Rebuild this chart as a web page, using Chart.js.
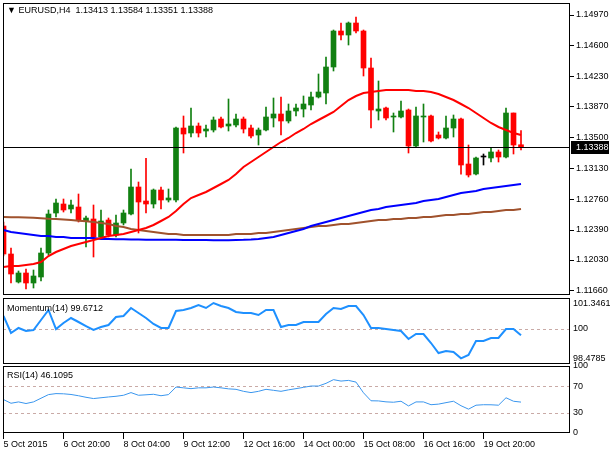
<!DOCTYPE html>
<html>
<head>
<meta charset="utf-8">
<script src="https://cdn.jsdelivr.net/npm/chart.js@4.4.0/dist/chart.umd.min.js"></script>
<style>
body { margin: 0; background: #fff; width: 610px; height: 450px; overflow: hidden; position: relative;
       font-family: "Liberation Sans", Arial, sans-serif; }
canvas { position: absolute; left: 0; }
.lbl { position: absolute; left: 7px; font-size: 9px; line-height: 10px; color: #000; white-space: pre; }
</style>
</head>
<body>
<canvas id="main" width="610" height="300" style="top:0"></canvas>
<canvas id="mom" width="610" height="74" style="top:292px"></canvas>
<canvas id="rsi" width="610" height="94" style="top:356px"></canvas>
<div class="lbl" id="title" style="top:5px"></div>
<div class="lbl" id="momTitle" style="top:303px"></div>
<div class="lbl" id="rsiTitle" style="top:370px"></div>
<script>
// EURUSD H4, one value per bar
const opens = [1.12438,1.12102,1.11766,1.11874,1.11754,1.11826,1.12114,1.12594,1.12702,1.12642,
  1.12666,1.12498,1.12522,1.12306,1.1251,1.1233,1.12474,1.12582,1.12906,1.12738,
  1.12702,1.1287,1.1275,1.1275,1.13614,1.13554,1.13638,1.13578,1.1359,1.13722,
  1.13638,1.1365,1.13722,1.13614,1.1353,1.1359,1.13734,1.13782,1.13698,1.13818,
  1.13842,1.1389,1.13986,1.14034,1.14346,1.14778,1.1473,1.14874,1.14778,1.14334,
  1.13818,1.13854,1.13746,1.13746,1.1383,1.13398,1.13746,1.13758,1.1353,1.13494,
  1.13614,1.13722,1.13182,1.13062,1.13266,1.13254,1.13326,1.13266,1.13794,1.13413];
const highs = [1.12486,1.12174,1.11898,1.11922,1.1191,1.12174,1.1263,1.12762,1.12762,1.1275,
  1.12822,1.12558,1.1269,1.1263,1.12534,1.1257,1.1263,1.13122,1.12966,1.1325,
  1.12882,1.12906,1.12882,1.13626,1.13758,1.13854,1.13674,1.1365,1.13746,1.13746,
  1.13962,1.13782,1.13746,1.1365,1.13614,1.13866,1.13974,1.13986,1.13902,1.13902,
  1.13998,1.14046,1.14262,1.14466,1.1479,1.14874,1.14886,1.14946,1.1479,1.14454,
  1.14178,1.13866,1.13794,1.13938,1.13842,1.13866,1.13902,1.1377,1.13566,1.13758,
  1.1377,1.13734,1.1341,1.13266,1.13302,1.13374,1.1335,1.13854,1.13794,1.13584];
const lows = [1.12078,1.11754,1.11754,1.11682,1.11694,1.11778,1.1209,1.12546,1.12606,1.12594,
  1.12486,1.12186,1.12066,1.12294,1.12306,1.12306,1.1245,1.1257,1.12354,1.12594,
  1.12654,1.12642,1.12726,1.12726,1.13314,1.13506,1.13506,1.13506,1.13566,1.13614,
  1.13578,1.13626,1.13554,1.13494,1.1341,1.13578,1.13626,1.1353,1.13674,1.13758,
  1.13746,1.1383,1.13974,1.13902,1.14298,1.1467,1.1461,1.14754,1.14238,1.13614,
  1.1371,1.1371,1.13566,1.13734,1.13314,1.13386,1.13446,1.13446,1.13482,1.13482,
  1.13506,1.1306,1.13026,1.1305,1.1317,1.13206,1.13206,1.13254,1.13302,1.13351];
const closes = [1.12102,1.11862,1.11874,1.11754,1.11838,1.12114,1.12582,1.12714,1.1263,1.1269,
  1.1251,1.12534,1.12306,1.12498,1.1233,1.12474,1.12594,1.12906,1.12726,1.12702,
  1.1287,1.1275,1.12774,1.13614,1.13542,1.13638,1.13554,1.13602,1.1371,1.13626,
  1.13662,1.13722,1.13602,1.13518,1.1359,1.13746,1.13782,1.13698,1.13818,1.13854,
  1.13902,1.13986,1.14046,1.14346,1.14778,1.1473,1.14874,1.14778,1.14334,1.1383,
  1.13842,1.13734,1.13758,1.13818,1.13398,1.13758,1.13758,1.13458,1.13494,1.13614,
  1.13722,1.1317,1.1305,1.13254,1.13266,1.13326,1.13266,1.13794,1.1341,1.13388];

// moving averages
const maFast = [1.11946,1.11958,1.11958,1.1197,1.11982,1.12006,1.12078,1.12126,1.12162,1.12198,
  1.12222,1.12246,1.1227,1.12294,1.12318,1.1233,1.12342,1.12366,1.1239,1.12414,
  1.1245,1.12498,1.12546,1.12618,1.12702,1.12774,1.1281,1.12846,1.12894,1.12942,
  1.1299,1.13062,1.13146,1.13206,1.13266,1.13326,1.13386,1.13446,1.13494,1.13554,
  1.13602,1.13662,1.1371,1.13758,1.13806,1.13878,1.1395,1.13998,1.14034,1.14046,
  1.14058,1.1407,1.1407,1.1407,1.1407,1.14058,1.14058,1.14046,1.14022,1.13986,
  1.1395,1.13902,1.13854,1.13794,1.13734,1.13674,1.13626,1.1359,1.13554,1.1353];
const maMid = [1.1239,1.12366,1.12354,1.12342,1.1233,1.12318,1.12318,1.12306,1.12306,1.12294,
  1.12294,1.12294,1.12294,1.12282,1.12282,1.1228,1.12278,1.12276,1.12276,1.12274,
  1.12274,1.12272,1.12272,1.12272,1.1227,1.1227,1.1227,1.1227,1.12268,1.12268,
  1.12268,1.1227,1.12272,1.12276,1.12282,1.12294,1.12306,1.1233,1.12354,1.12378,
  1.12402,1.12438,1.12462,1.12486,1.1251,1.12534,1.12558,1.12582,1.12606,1.1263,
  1.12642,1.12666,1.12678,1.1269,1.12702,1.12714,1.12738,1.1275,1.12762,1.12786,
  1.1281,1.12834,1.12846,1.12858,1.12882,1.12894,1.12906,1.12918,1.1293,1.12942];
const maSlow = [1.12546,1.12544,1.12542,1.1254,1.12536,1.12532,1.12526,1.12522,1.12516,1.1251,
  1.12502,1.12496,1.12486,1.12474,1.12462,1.12438,1.12426,1.12402,1.1239,1.12378,
  1.12366,1.12354,1.12342,1.12342,1.1233,1.1233,1.1233,1.1233,1.1233,1.1233,
  1.1233,1.12342,1.12342,1.12342,1.12354,1.12354,1.12366,1.12378,1.1239,1.12402,
  1.12414,1.12426,1.12438,1.12438,1.1245,1.12462,1.12462,1.12474,1.12486,1.12498,
  1.1251,1.1251,1.12522,1.12522,1.12534,1.12534,1.12546,1.12546,1.12558,1.1257,
  1.1257,1.12582,1.12582,1.12594,1.12606,1.12606,1.12618,1.1263,1.1263,1.12642];

// Momentum(14)
const momentum = [100.674,99.793,100.052,99.896,99.948,100.466,100.984,100.0,100.311,100.570,
  100.363,100.155,99.948,100.104,100.207,100.622,100.674,101.088,100.829,100.570,
  100.259,100.052,100.052,100.933,100.984,101.088,101.244,101.088,101.3461,101.192,
  101.088,100.881,100.829,100.829,100.725,100.984,100.984,100.104,100.207,100.207,
  100.363,100.363,100.363,100.777,101.088,101.036,101.192,101.192,100.725,100.052,
  100.052,100.0,99.948,99.896,99.482,99.741,99.741,99.275,98.756,98.860,
  98.808,98.4785,98.653,99.378,99.378,99.534,99.534,100.0,100.0,99.6712];

// RSI(14)
const rsi = [49.9,44.4,46.4,44.0,46.4,51.9,57.3,58.8,58.5,57.5,
  55.6,53.3,51.4,52.6,53.8,54.8,56.3,60.3,56.3,57.0,
  57.8,55.6,57.3,68.6,67.4,66.2,67.4,67.4,68.6,67.4,
  65.9,65.2,62.2,60.3,62.2,65.2,63.7,62.2,64.4,66.2,
  68.1,70.1,70.1,74.1,79.6,77.5,78.5,76.0,60.0,48.1,
  47.9,46.5,45.9,47.4,40.4,46.4,46.4,42.2,43.1,45.3,
  47.4,40.7,35.6,41.5,42.2,42.1,41.5,52.6,47.4,46.1095];

const priceTicks = [1.1166, 1.1203, 1.1239, 1.1276, 1.1313, 1.135, 1.1387, 1.1423, 1.146, 1.1497];
const momTicks = [98.4785, 100, 101.3461];
const rsiTicks = [0, 30, 70, 100];
const momLevels = [100];
const rsiLevels = [30, 70];
const dateTickIdx = [0, 8, 16, 24, 32, 40, 48, 56, 64];
const dateLabels = ['5 Oct 2015', '6 Oct 20:00', '8 Oct 04:00', '9 Oct 12:00', '12 Oct 16:00',
  '14 Oct 00:00', '15 Oct 08:00', '16 Oct 16:00', '19 Oct 20:00'];

const last = closes.length - 1;
const X_MIN = -0.0667, X_MAX = 75.533;
const BULL = '#118011', BEAR = '#ff0000', DOJI = '#000000';

Chart.defaults.font.family = '"Liberation Sans", Arial, sans-serif';
Chart.defaults.font.size = 9;
Chart.defaults.color = '#000';

document.getElementById('title').textContent =
  '\u25BC EURUSD,H4  ' + [opens[last], highs[last], lows[last], closes[last]].map(v => v.toFixed(5)).join(' ');
document.getElementById('momTitle').textContent = 'Momentum(14) ' + momentum[last].toFixed(4);
document.getElementById('rsiTitle').textContent = 'RSI(14) ' + rsi[last].toFixed(4);

function candleColor(i) {
  if (closes[i] > opens[i]) return BULL;
  if (closes[i] < opens[i]) return BEAR;
  return DOJI;
}
const candleColors = closes.map((c, i) => candleColor(i));
const xy = arr => arr.map((v, i) => ({ x: i, y: v }));

// frame round the plot area
const framePlugin = {
  id: 'frame',
  afterDraw(chart) {
    const { ctx, chartArea: a } = chart;
    ctx.save();
    ctx.strokeStyle = '#000';
    ctx.lineWidth = 1;
    ctx.strokeRect(a.left + 0.5, a.top + 0.5, a.right - a.left - 1, a.bottom - a.top - 1);
    ctx.restore();
  }
};

// dashed indicator levels
const levelPlugin = {
  id: 'levels',
  beforeDatasetsDraw(chart, args, opts) {
    const { ctx, chartArea: a, scales } = chart;
    ctx.save();
    ctx.strokeStyle = '#c9aaa6';
    ctx.lineWidth = 1;
    ctx.setLineDash([3, 3]);
    (opts.values || []).forEach(v => {
      const y = Math.round(scales.y.getPixelForValue(v)) + 0.5;
      ctx.beginPath();
      ctx.moveTo(a.left, y);
      ctx.lineTo(a.right, y);
      ctx.stroke();
    });
    ctx.restore();
  }
};

// current price line and its box on the axis
const pricePlugin = {
  id: 'priceLine',
  afterDatasetsDraw(chart) {
    const { ctx, chartArea: a, scales } = chart;
    const y = Math.round(scales.y.getPixelForValue(closes[last])) + 0.5;
    ctx.save();
    ctx.strokeStyle = '#000';
    ctx.lineWidth = 1;
    ctx.beginPath();
    ctx.moveTo(a.left, y);
    ctx.lineTo(a.right, y);
    ctx.stroke();
    ctx.restore();
  },
  afterDraw(chart) {
    const { ctx, chartArea: a, scales } = chart;
    const y = Math.round(scales.y.getPixelForValue(closes[last]));
    ctx.save();
    ctx.fillStyle = '#000';
    ctx.fillRect(a.right + 1, y - 6, 38, 13);
    ctx.fillStyle = '#fff';
    ctx.font = Chart.defaults.font.size + 'px ' + Chart.defaults.font.family;
    ctx.textBaseline = 'middle';
    ctx.fillText(closes[last].toFixed(5), a.right + 6, y + 1);
    ctx.restore();
  }
};

function xScale(show) {
  return {
    type: 'linear', min: X_MIN, max: X_MAX, offset: false, display: show,
    grid: { drawOnChartArea: false, drawTicks: true, tickLength: 6, color: '#000' },
    border: { display: false },
    afterBuildTicks: s => { s.ticks = dateTickIdx.map(v => ({ value: v })); },
    afterFit: s => {
      s.height = show ? 17 : 0;
      s.paddingLeft = 0;
      s.paddingRight = 0;
    },
    ticks: {
      autoSkip: false, maxRotation: 0, align: 'start', padding: 0,
      callback: v => dateLabels[dateTickIdx.indexOf(v)]
    }
  };
}

function yScale(min, max, tickValues, fmt, tickLen) {
  return {
    position: 'right', min: min, max: max,
    grid: { drawOnChartArea: false, drawTicks: tickLen > 0, tickLength: tickLen, color: '#000' },
    border: { display: false },
    afterBuildTicks: s => { s.ticks = tickValues.map(v => ({ value: v })); },
    afterFit: s => {
      s.width = 40;
      s.paddingTop = 0;
      s.paddingBottom = 0;
    },
    ticks: { autoSkip: false, padding: tickLen > 0 ? 2 : 3, callback: fmt }
  };
}

const baseOptions = {
  responsive: false,
  animation: false,
  events: [],
  plugins: { legend: { display: false }, tooltip: { enabled: false } }
};

new Chart(document.getElementById('main'), {
  type: 'bar',
  data: {
    datasets: [
      { type: 'line', data: xy(maFast), borderColor: '#ff0000', borderWidth: 2, pointRadius: 0, order: 0 },
      { type: 'line', data: xy(maMid), borderColor: '#0000ff', borderWidth: 2, pointRadius: 0, order: 0 },
      { type: 'line', data: xy(maSlow), borderColor: '#a0522d', borderWidth: 2, pointRadius: 0, order: 0 },
      {
        data: opens.map((o, i) => ({ x: i, y: [o, closes[i]] })),
        backgroundColor: candleColors, barThickness: 5, minBarLength: 1, grouped: false, order: 2
      },
      {
        data: lows.map((l, i) => ({ x: i, y: [l, highs[i]] })),
        backgroundColor: candleColors, barThickness: 1, grouped: false, order: 3
      }
    ]
  },
  options: Object.assign({}, baseOptions, {
    layout: { padding: { left: 3, top: 3, right: 0, bottom: 5 } },
    scales: {
      x: xScale(false),
      y: yScale(1.1161, 1.15114, priceTicks, v => v.toFixed(5), 4)
    }
  }),
  plugins: [framePlugin, pricePlugin]
});

new Chart(document.getElementById('mom'), {
  type: 'line',
  data: {
    datasets: [
      { data: xy(momentum), borderColor: '#1e90ff', borderWidth: 2, pointRadius: 0 }
    ]
  },
  options: Object.assign({}, baseOptions, {
    layout: { padding: { left: 3, top: 6, right: 0, bottom: 2 } },
    plugins: { legend: { display: false }, tooltip: { enabled: false }, levels: { values: momLevels } },
    scales: {
      x: xScale(false),
      y: yScale(98.187, 101.606, momTicks, v => String(v), 0)
    }
  }),
  plugins: [framePlugin, levelPlugin]
});

new Chart(document.getElementById('rsi'), {
  type: 'line',
  data: {
    datasets: [
      { data: xy(rsi), borderColor: '#3a96ee', borderWidth: 1, pointRadius: 0 }
    ]
  },
  options: Object.assign({}, baseOptions, {
    layout: { padding: { left: 3, top: 10, right: 0, bottom: 0 } },
    plugins: { legend: { display: false }, tooltip: { enabled: false }, levels: { values: rsiLevels } },
    scales: {
      x: xScale(true),
      y: yScale(0, 100, rsiTicks, v => String(v), 0)
    }
  }),
  plugins: [framePlugin, levelPlugin]
});
</script>
</body>
</html>
